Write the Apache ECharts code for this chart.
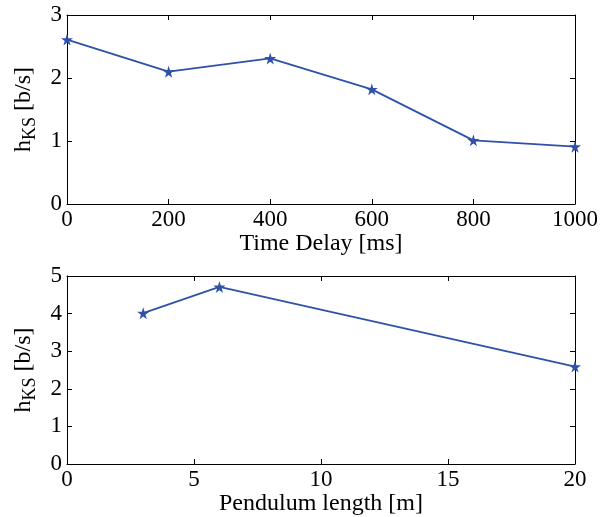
<!DOCTYPE html>
<html><head><meta charset="utf-8">
<script src="https://cdn.jsdelivr.net/npm/echarts@6/dist/echarts.min.js"></script>
<style>html,body{margin:0;padding:0;background:#fff}#c{width:615px;height:517px}</style>
</head><body><div id="c"></div>
<script>
const delayX = [0, 200, 400, 600, 800, 1000];
const delayH = [2.61, 2.1, 2.31, 1.82, 1.01, 0.91];
const lengthX = [3, 6, 20];
const lengthH = [4.01, 4.71, 2.59];
const topXLabel = 'Time Delay [ms]';
const botXLabel = 'Pendulum length [m]';
const yName = '{h|h}{s|KS}{t| [b/s]}';

const FONT = 'Liberation Serif';
const lineColor = '#2f52a8';
const star = 'path://M50,0 L61,35 L98,35 L68,57 L79,91 L50,70 L21,91 L32,57 L2,35 L39,35 Z';

function xA(grid, min, max, interval, name, show) {
  return {
    type: 'value', gridIndex: grid, min, max, interval,
    position: show ? 'bottom' : 'top',
    name: show ? name : '', nameLocation: 'middle', nameGap: 24,
    nameTextStyle: {fontFamily: FONT, fontSize: 24, color: '#000'},
    axisLine: {show: true, onZero: false, lineStyle: {color: '#000', width: 1}},
    axisTick: {show: true, inside: true, length: 5, lineStyle: {color: '#000'}},
    axisLabel: {show: show, fontFamily: FONT, fontSize: 23, color: '#000', margin: 4,
      formatter: v => String(v)},
    splitLine: {show: false}
  };
}
function yA(grid, min, max, interval, show) {
  return {
    type: 'value', gridIndex: grid, min, max, interval,
    position: show ? 'left' : 'right',
    name: show ? yName : '', nameLocation: 'middle', nameGap: 27, nameRotate: 90,
    nameTextStyle: {
      fontFamily: FONT, color: '#000',
      rich: {
        h: {fontFamily: FONT, fontSize: 24, color: '#000', lineHeight: 28, verticalAlign: 'top'},
        s: {fontFamily: FONT, fontSize: 18, color: '#000', lineHeight: 28, verticalAlign: 'bottom'},
        t: {fontFamily: FONT, fontSize: 24, color: '#000', lineHeight: 28, verticalAlign: 'top'}
      }
    },
    axisLine: {show: true, onZero: false, lineStyle: {color: '#000', width: 1}},
    axisTick: {show: true, inside: true, length: 5, lineStyle: {color: '#000'}},
    axisLabel: {show: show, fontFamily: FONT, fontSize: 23, color: '#000', margin: 5,
      formatter: v => String(v)},
    splitLine: {show: false}
  };
}

const chart = echarts.init(document.getElementById('c'), null, {renderer: 'canvas'});
chart.setOption({
  backgroundColor: '#fff',
  animation: false,
  grid: [
    {left: 67, top: 15, width: 508, height: 189},
    {left: 67, top: 276, width: 508, height: 188}
  ],
  xAxis: [
    xA(0, 0, 1000, 200, topXLabel, true),
    xA(0, 0, 1000, 200, '', false),
    xA(1, 0, 20, 5, botXLabel, true),
    xA(1, 0, 20, 5, '', false)
  ],
  yAxis: [
    yA(0, 0, 3, 1, true),
    yA(0, 0, 3, 1, false),
    yA(1, 0, 5, 1, true),
    yA(1, 0, 5, 1, false)
  ],
  series: [
    {
      type: 'line', xAxisIndex: 0, yAxisIndex: 0,
      data: delayX.map((x, i) => [x, delayH[i]]),
      symbol: star, symbolSize: 12, showAllSymbol: true,
      lineStyle: {color: lineColor, width: 1.8},
      itemStyle: {color: lineColor}
    },
    {
      type: 'line', xAxisIndex: 2, yAxisIndex: 2,
      data: lengthX.map((x, i) => [x, lengthH[i]]),
      symbol: star, symbolSize: 12, showAllSymbol: true,
      lineStyle: {color: lineColor, width: 1.8},
      itemStyle: {color: lineColor}
    }
  ]
});
</script>
</body></html>
